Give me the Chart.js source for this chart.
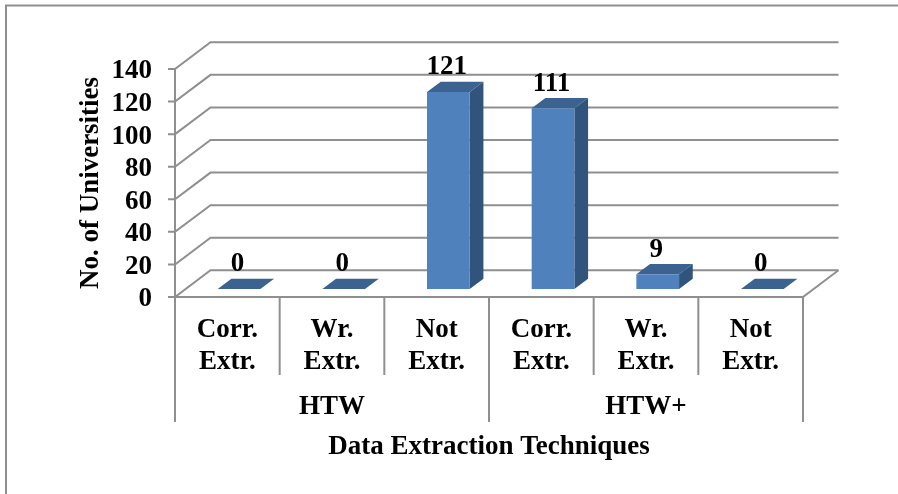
<!DOCTYPE html>
<html>
<head>
<meta charset="utf-8">
<title>Data Extraction Techniques</title>
<script src="https://cdn.jsdelivr.net/npm/chart.js@4"></script>
<style>
  html, body { margin:0; padding:0; background:#fff; }
  canvas { display:block; }
</style>
</head>
<body>
<canvas id="chart" width="898" height="494"></canvas>
<script>
// Data
const categories = [['Corr.','Extr.'],['Wr.','Extr.'],['Not','Extr.'],['Corr.','Extr.'],['Wr.','Extr.'],['Not','Extr.']];
const groups     = ['HTW','HTW+'];
const values     = [0, 0, 121, 111, 9, 0];

// Fake 3D look
const LINE = '#8f8f8f';
const WALL = { dx:35.5, dy:-26.7 };   // floor depth
const BAR_SHIFT = { dx:11.7, dy:-8 }; // bars stand mid floor
const BAR_DEPTH = { dx:13.7, dy:-10.3 };
const FONT = { family:'"Liberation Serif"', size:27, weight:'bold', lineHeight:1.15 };

function seg(ctx, pts) {
  ctx.beginPath();
  pts.forEach((p,i) => i ? ctx.lineTo(p[0],p[1]) : ctx.moveTo(p[0],p[1]));
  ctx.stroke();
}

function poly(ctx, pts, color) {
  ctx.fillStyle = color;
  ctx.beginPath();
  pts.forEach((p,i) => i ? ctx.lineTo(p[0],p[1]) : ctx.moveTo(p[0],p[1]));
  ctx.closePath();
  ctx.fill();
}

const frame3d = {
  id:'frame3d',
  beforeDatasetsDraw(chart) {
    const { ctx, scales:{ x, y, x2 } } = chart;
    const l = x.left, r = x.right, b = y.bottom;
    ctx.save();
    ctx.strokeStyle = LINE;
    ctx.lineWidth = 2;

    // outer picture frame
    seg(ctx, [[6,494],[6,5.5],[898,5.5]]);

    // wall and floor grid
    y.ticks.forEach(t => {
      const py = y.getPixelForValue(t.value);
      seg(ctx, [[l-7,py],[l,py],[l+WALL.dx,py+WALL.dy],[r+WALL.dx,py+WALL.dy]]);
    });
    seg(ctx, [[l,b],[r,b],[r+WALL.dx,b+WALL.dy]]);
    seg(ctx, [[l,y.top],[l,b]]);

    // category separators, group ones run longer
    const step = (r-l)/categories.length;
    categories.forEach((c,i) => {
      const px = l + step*(i+1);
      if (i < categories.length-1 && (i+1) !== categories.length/groups.length) seg(ctx, [[px,b],[px,x.bottom]]);
    });
    [l, (l+r)/2, r].forEach(px => seg(ctx, [[px,b],[px,x2.top+47]]));
    ctx.restore();

    // bar sides and tops
    chart.getDatasetMeta(0).data.forEach(el => {
      const x0 = el.x - el.width/2 + BAR_SHIFT.dx, x1 = el.x + el.width/2 + BAR_SHIFT.dx;
      const top = el.y + BAR_SHIFT.dy, bot = el.base + BAR_SHIFT.dy;
      const dx = BAR_DEPTH.dx, dy = BAR_DEPTH.dy;
      poly(ctx, [[x1,top],[x1+dx,top+dy],[x1+dx,bot+dy],[x1,bot]], '#31547c');
      poly(ctx, [[x0,top],[x0+dx,top+dy],[x1+dx,top+dy],[x1,top]], '#3c6390');
    });

    // front faces get drawn by the library, just moved up the floor
    ctx.save();
    ctx.translate(BAR_SHIFT.dx, BAR_SHIFT.dy);
  },
  afterDatasetsDraw(chart) {
    const { ctx } = chart;
    ctx.restore();

    // value labels
    ctx.save();
    ctx.font = `${FONT.weight} ${FONT.size}px ${FONT.family}`;
    ctx.fillStyle = '#000';
    ctx.textAlign = 'center';
    ctx.textBaseline = 'middle';
    chart.getDatasetMeta(0).data.forEach((el,i) => {
      ctx.fillText(String(values[i]), el.x + BAR_SHIFT.dx - 1.5, el.y + BAR_SHIFT.dy - 24.5);
    });
    ctx.restore();
  }
};

new Chart(document.getElementById('chart'), {
  type:'bar',
  data:{
    labels:categories,
    datasets:[{
      data:values,
      backgroundColor:'#4f81bd',
      barPercentage:0.408,
      categoryPercentage:1
    }]
  },
  options:{
    responsive:false,
    animation:false,
    font:FONT,
    layout:{ padding:{ left:0, top:69, right:95, bottom:0 } },
    plugins:{ legend:{ display:false }, tooltip:{ enabled:false }, title:{ display:false } },
    scales:{
      x:{
        type:'category',
        weight:0,
        offset:true,
        grid:{ display:false },
        border:{ display:false },
        ticks:{ color:'#000', font:FONT, padding:10, maxRotation:0, autoSkip:false },
        afterFit:s => { s.height = 78; }
      },
      x2:{
        type:'category',
        labels:groups,
        position:'bottom',
        weight:1,
        offset:true,
        grid:{ display:false },
        border:{ display:false },
        ticks:{ color:'#000', font:FONT, padding:9, maxRotation:0, autoSkip:false },
        title:{ display:true, text:'Data Extraction Techniques', color:'#000', font:FONT, padding:{ top:0, bottom:31 } },
        afterFit:s => { s.height = 119; }
      },
      y:{
        min:0,
        max:140,
        grid:{ display:false, drawTicks:false },
        border:{ display:false },
        ticks:{ stepSize:20, color:'#000', font:FONT, padding:23, autoSkip:false, labelOffset:2.5 },
        title:{ display:true, text:'No. of Universities', color:'#000', font:FONT, padding:{ top:76, bottom:0 } },
        afterFit:s => { s.width = 175; }
      }
    }
  },
  plugins:[frame3d]
});
</script>
</body>
</html>
